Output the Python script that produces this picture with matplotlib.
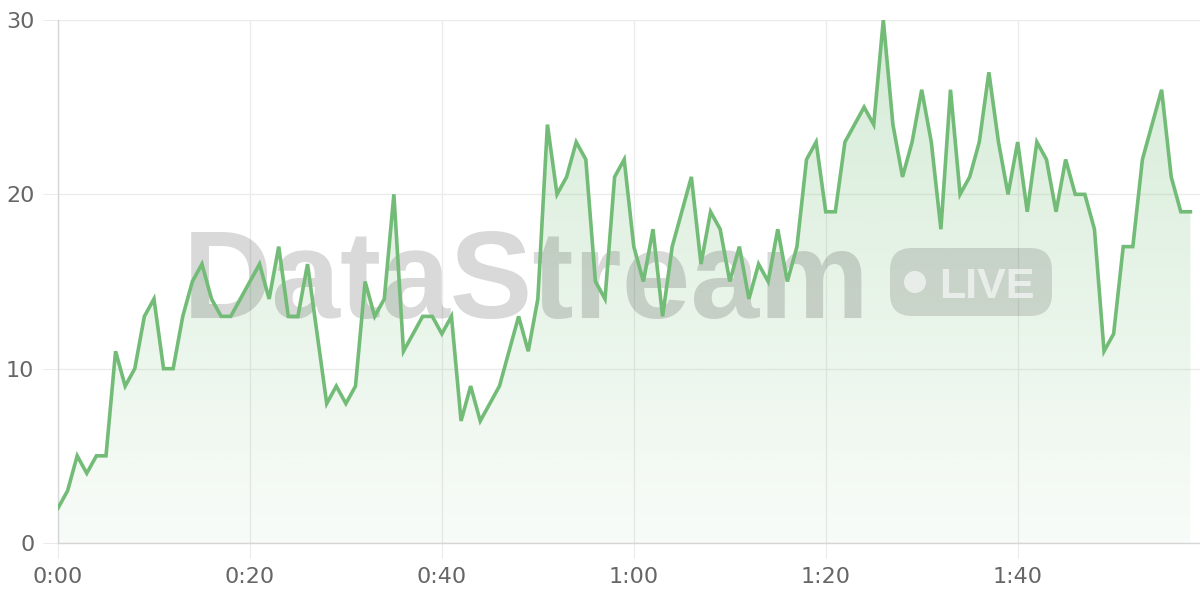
import matplotlib.pyplot as plt
import numpy as np
from matplotlib.patches import FancyBboxPatch, Circle
from matplotlib.transforms import IdentityTransform

# valores por minuto
values = [2, 3, 5, 4, 5, 5, 11, 9, 10, 13,
          14, 10, 10, 13, 15, 16, 14, 13, 13, 14,
          15, 16, 14, 17, 13, 13, 16, 12, 8, 9,
          8, 9, 15, 13, 14, 20, 11, 12, 13, 13,
          12, 13, 7, 9, 7, 8, 9, 11, 13, 11,
          14, 24, 20, 21, 23, 22, 15, 14, 21, 22,
          17, 15, 18, 13, 17, 19, 21, 16, 19, 18,
          15, 17, 14, 16, 15, 18, 15, 17, 22, 23,
          19, 19, 23, 24, 25, 24, 30, 24, 21, 23,
          26, 23, 18, 26, 20, 21, 23, 27, 23, 20,
          23, 19, 23, 22, 19, 22, 20, 20, 18, 11,
          12, 17, 17, 22, 24, 26, 21, 19, 19]
minutes = np.arange(len(values))
xticks = [0, 20, 40, 60, 80, 100]
xtick_labels = ['0:00', '0:20', '0:40', '1:00', '1:20', '1:40']
yticks = [0, 10, 20, 30]

line_color = '#72bc77'
grid_color = '#ebebeb'

fig = plt.figure(figsize=(12, 6), dpi=100)
ax = fig.add_axes([58 / 1200, 57 / 600, (1200 - 58) / 1200, 523 / 600])

# relleno con degradado
poly = ax.fill_between(minutes, values, 0, color='none', lw=0)
rgb = np.array([116, 190, 120]) / 255
img = np.zeros((256, 1, 4))
img[..., :3] = rgb
img[..., 3] = np.linspace(0.05, 0.30, 256)[:, None]
im = ax.imshow(img, extent=[0, len(values) - 1, 0, 30], origin='lower',
               aspect='auto', zorder=1, interpolation='bilinear')
im.set_clip_path(poly.get_paths()[0], transform=ax.transData)

ax.plot(minutes, values, color=line_color, lw=2.6, solid_joinstyle='miter',
        zorder=4)

ax.set_xlim(0, 119)
ax.set_ylim(0, 30)
ax.set_xticks(xticks)
ax.set_xticklabels(xtick_labels)
ax.set_yticks(yticks)

ax.grid(True, color=grid_color, lw=1)
ax.set_axisbelow(True)
for s in ['top', 'right']:
    ax.spines[s].set_visible(False)
for s in ['left', 'bottom']:
    ax.spines[s].set_color('#d6d6d6')
    ax.spines[s].set_linewidth(1)
ax.tick_params(length=11, width=0.75, color=grid_color, labelcolor='#666666',
               labelsize=16, pad=6)

# marca de agua
ax.text(526, 600 - 318, 'DataStream', transform=IdentityTransform(),
        fontsize=89, fontweight='bold', family='Liberation Sans',
        color='black', alpha=0.15, ha='center', va='baseline', zorder=2)
badge = FancyBboxPatch((890, 600 - 316), 162, 68,
                       boxstyle='round,pad=0,rounding_size=22',
                       transform=IdentityTransform(), fc='black', alpha=0.13,
                       ec='none', zorder=2)
ax.add_patch(badge)
ax.add_patch(Circle((915, 600 - 282), 11, transform=IdentityTransform(),
                    fc='white', alpha=0.6, ec='none', zorder=3))
ax.text(987, 600 - 298, 'LIVE', transform=IdentityTransform(), fontsize=31,
        fontweight='bold', family='Liberation Sans', color='white', alpha=0.6,
        ha='center', va='baseline', zorder=3)

fig.savefig('out.png', dpi=100)
